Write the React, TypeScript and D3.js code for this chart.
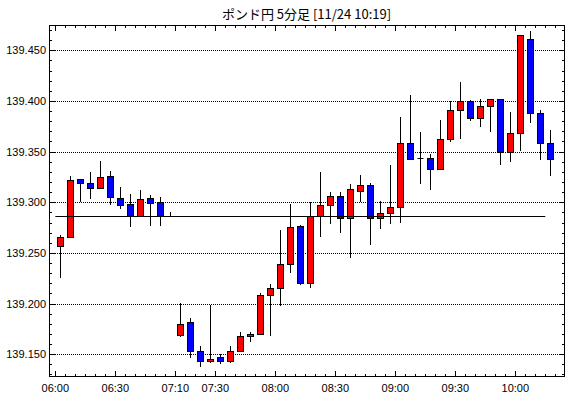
import React from "react";
import * as d3 from "d3";

const W = 570;
const H = 398;
const TITLE = "ポンド円 5分足 [11/24 10:19]";

// 5-minute candles, 06:00 .. 10:15 (07:00 and 07:05 absent)
const opens = [
  139.257, 139.266, 139.323, 139.319, 139.314, 139.326, 139.304, 139.298, 139.286, 139.304,
  139.300, 139.286, 139.169, 139.182, 139.153, 139.143, 139.147, 139.143, 139.153, 139.168,
  139.170, 139.208, 139.215, 139.239, 139.277, 139.220, 139.286, 139.297, 139.306, 139.284,
  139.311, 139.317, 139.284, 139.289, 139.295, 139.358, 139.344, 139.344, 139.333, 139.362,
  139.391, 139.400, 139.383, 139.395, 139.402, 139.350, 139.368, 139.461, 139.388, 139.358,
];
const highs = [
  139.268, 139.326, 139.323, 139.330, 139.341, 139.331, 139.315, 139.308, 139.312, 139.307,
  139.305, 139.290, 139.201, 139.186, 139.158, 139.199, 139.150, 139.158, 139.172, 139.172,
  139.210, 139.219, 139.273, 139.298, 139.278, 139.300, 139.330, 139.310, 139.310, 139.318,
  139.327, 139.319, 139.301, 139.337, 139.384, 139.406, 139.369, 139.348, 139.381, 139.400,
  139.419, 139.401, 139.402, 139.402, 139.402, 139.389, 139.465, 139.469, 139.391, 139.371,
];
const lows = [
  139.225, 139.265, 139.300, 139.303, 139.314, 139.297, 139.293, 139.276, 139.286, 139.277,
  139.277, 139.286, 139.167, 139.146, 139.137, 139.141, 139.140, 139.141, 139.153, 139.162,
  139.170, 139.168, 139.198, 139.230, 139.218, 139.215, 139.266, 139.279, 139.270, 139.245,
  139.300, 139.258, 139.274, 139.279, 139.280, 139.343, 139.318, 139.312, 139.332, 139.359,
  139.362, 139.380, 139.374, 139.369, 139.337, 139.340, 139.351, 139.378, 139.342, 139.326,
];
const closes = [
  139.266, 139.322, 139.319, 139.314, 139.325, 139.305, 139.297, 139.286, 139.303, 139.299,
  139.286, 139.286, 139.180, 139.153, 139.143, 139.145, 139.143, 139.153, 139.168, 139.170,
  139.208, 139.215, 139.239, 139.276, 139.220, 139.286, 139.297, 139.306, 139.284, 139.313,
  139.317, 139.284, 139.289, 139.295, 139.358, 139.343, 139.344, 139.333, 139.362, 139.391,
  139.400, 139.383, 139.395, 139.402, 139.350, 139.368, 139.465, 139.388, 139.358, 139.343,
];

const timeLabels = ["06:00", "06:30", "07:10", "07:30", "08:00", "08:30", "09:00", "09:30", "10:00"];
const timeLabelIdx = [0, 6, 12, 16, 22, 28, 34, 40, 46];
const priceLabels = [139.15, 139.2, 139.25, 139.3, 139.35, 139.4, 139.45];
const refLine = 139.286;

const frame = { left: 49, right: 564, top: 25, bottom: 376 };

export default function App() {
  const x = d3.scaleLinear().domain([0, 49]).range([60.3, 550.3]);
  const y = d3.scaleLinear().domain([139.15, 139.45]).range([354.2, 50.3]);

  // minor price ticks every 0.01 inside the frame
  const yTicks = d3.range(139.13, 139.475, 0.01).map((v) => +v.toFixed(2));
  const xTicks = d3.range(0, 51);

  const font = "'Liberation Sans', Arial, sans-serif";

  return (
    <div style={{ position: "absolute", left: 0, top: 0 }}>
      <svg width={W} height={H} style={{ display: "block", background: "#fff" }}>
        <text x={(frame.left + frame.right) / 2} y={19} textAnchor="middle"
          fontFamily="'Noto Sans CJK JP', sans-serif" fontSize={13} fill="#000">{TITLE}</text>

        {/* grid */}
        {priceLabels.map((p) => (
          <line key={"g" + p} x1={frame.left} x2={frame.right} y1={Math.round(y(p)) + 0.5} y2={Math.round(y(p)) + 0.5}
            stroke="#000" strokeWidth={1} strokeDasharray="1,1" />
        ))}

        {/* candles */}
        {opens.map((o, i) => {
          const c = closes[i];
          const cx = Math.round(x(i)) + 0.5;
          const top = Math.round(y(Math.max(o, c)));
          const bot = Math.round(y(Math.min(o, c)));
          const up = c >= o;
          return (
            <g key={"c" + i}>
              <line x1={cx} x2={cx} y1={Math.round(y(highs[i]))} y2={Math.round(y(lows[i]))} stroke="#000" strokeWidth={1} />
              {bot - top >= 1 ? (
                <rect x={cx - 3} y={top + 0.5} width={6} height={bot - top} fill={up ? "#ff0000" : "#0000ff"}
                  stroke="#000" strokeWidth={1} />
              ) : (
                <line x1={cx - 3} x2={cx + 3} y1={top + 0.5} y2={top + 0.5} stroke="#000" strokeWidth={1} />
              )}
            </g>
          );
        })}

        {/* reference line */}
        <line x1={x(-0.5)} x2={x(48.5)} y1={Math.round(y(refLine)) + 0.5} y2={Math.round(y(refLine)) + 0.5}
          stroke="#000" strokeWidth={1} />

        {/* frame */}
        <rect x={frame.left + 0.5} y={frame.top + 0.5} width={frame.right - frame.left} height={frame.bottom - frame.top}
          fill="none" stroke="#000" strokeWidth={1} />

        {/* y ticks, both sides */}
        {yTicks.map((t) => {
          const yy = Math.round(y(t)) + 0.5;
          const major = priceLabels.some((p) => Math.abs(p - t) < 1e-6);
          const len = major ? 6 : 3;
          return (
            <g key={"yt" + t}>
              <line x1={frame.left} x2={frame.left + len} y1={yy} y2={yy} stroke="#000" />
              <line x1={frame.right + 1} x2={frame.right + 1 - len} y1={yy} y2={yy} stroke="#000" />
            </g>
          );
        })}

        {/* x ticks, top and bottom */}
        {xTicks.map((i) => {
          const xx = Math.round(x(i - 0.5)) + 0.5;
          const major = timeLabelIdx.includes(i);
          const len = major ? 6 : 3;
          return (
            <g key={"xt" + i}>
              <line x1={xx} x2={xx} y1={frame.bottom + 1} y2={frame.bottom + 1 - len} stroke="#000" />
              <line x1={xx} x2={xx} y1={frame.top} y2={frame.top + len} stroke="#000" />
            </g>
          );
        })}

        {/* y labels */}
        {priceLabels.map((p) => (
          <text key={"yl" + p} x={46} y={y(p) + 4} textAnchor="end" fontFamily={font} fontSize={11} fill="#000">
            {p.toFixed(3)}
          </text>
        ))}

        {/* x labels */}
        {timeLabels.map((t, k) => (
          <text key={"xl" + t} x={x(timeLabelIdx[k] - 0.5)} y={392} textAnchor="middle" fontFamily={font} fontSize={11} fill="#000">
            {t}
          </text>
        ))}
      </svg>
    </div>
  );
}
